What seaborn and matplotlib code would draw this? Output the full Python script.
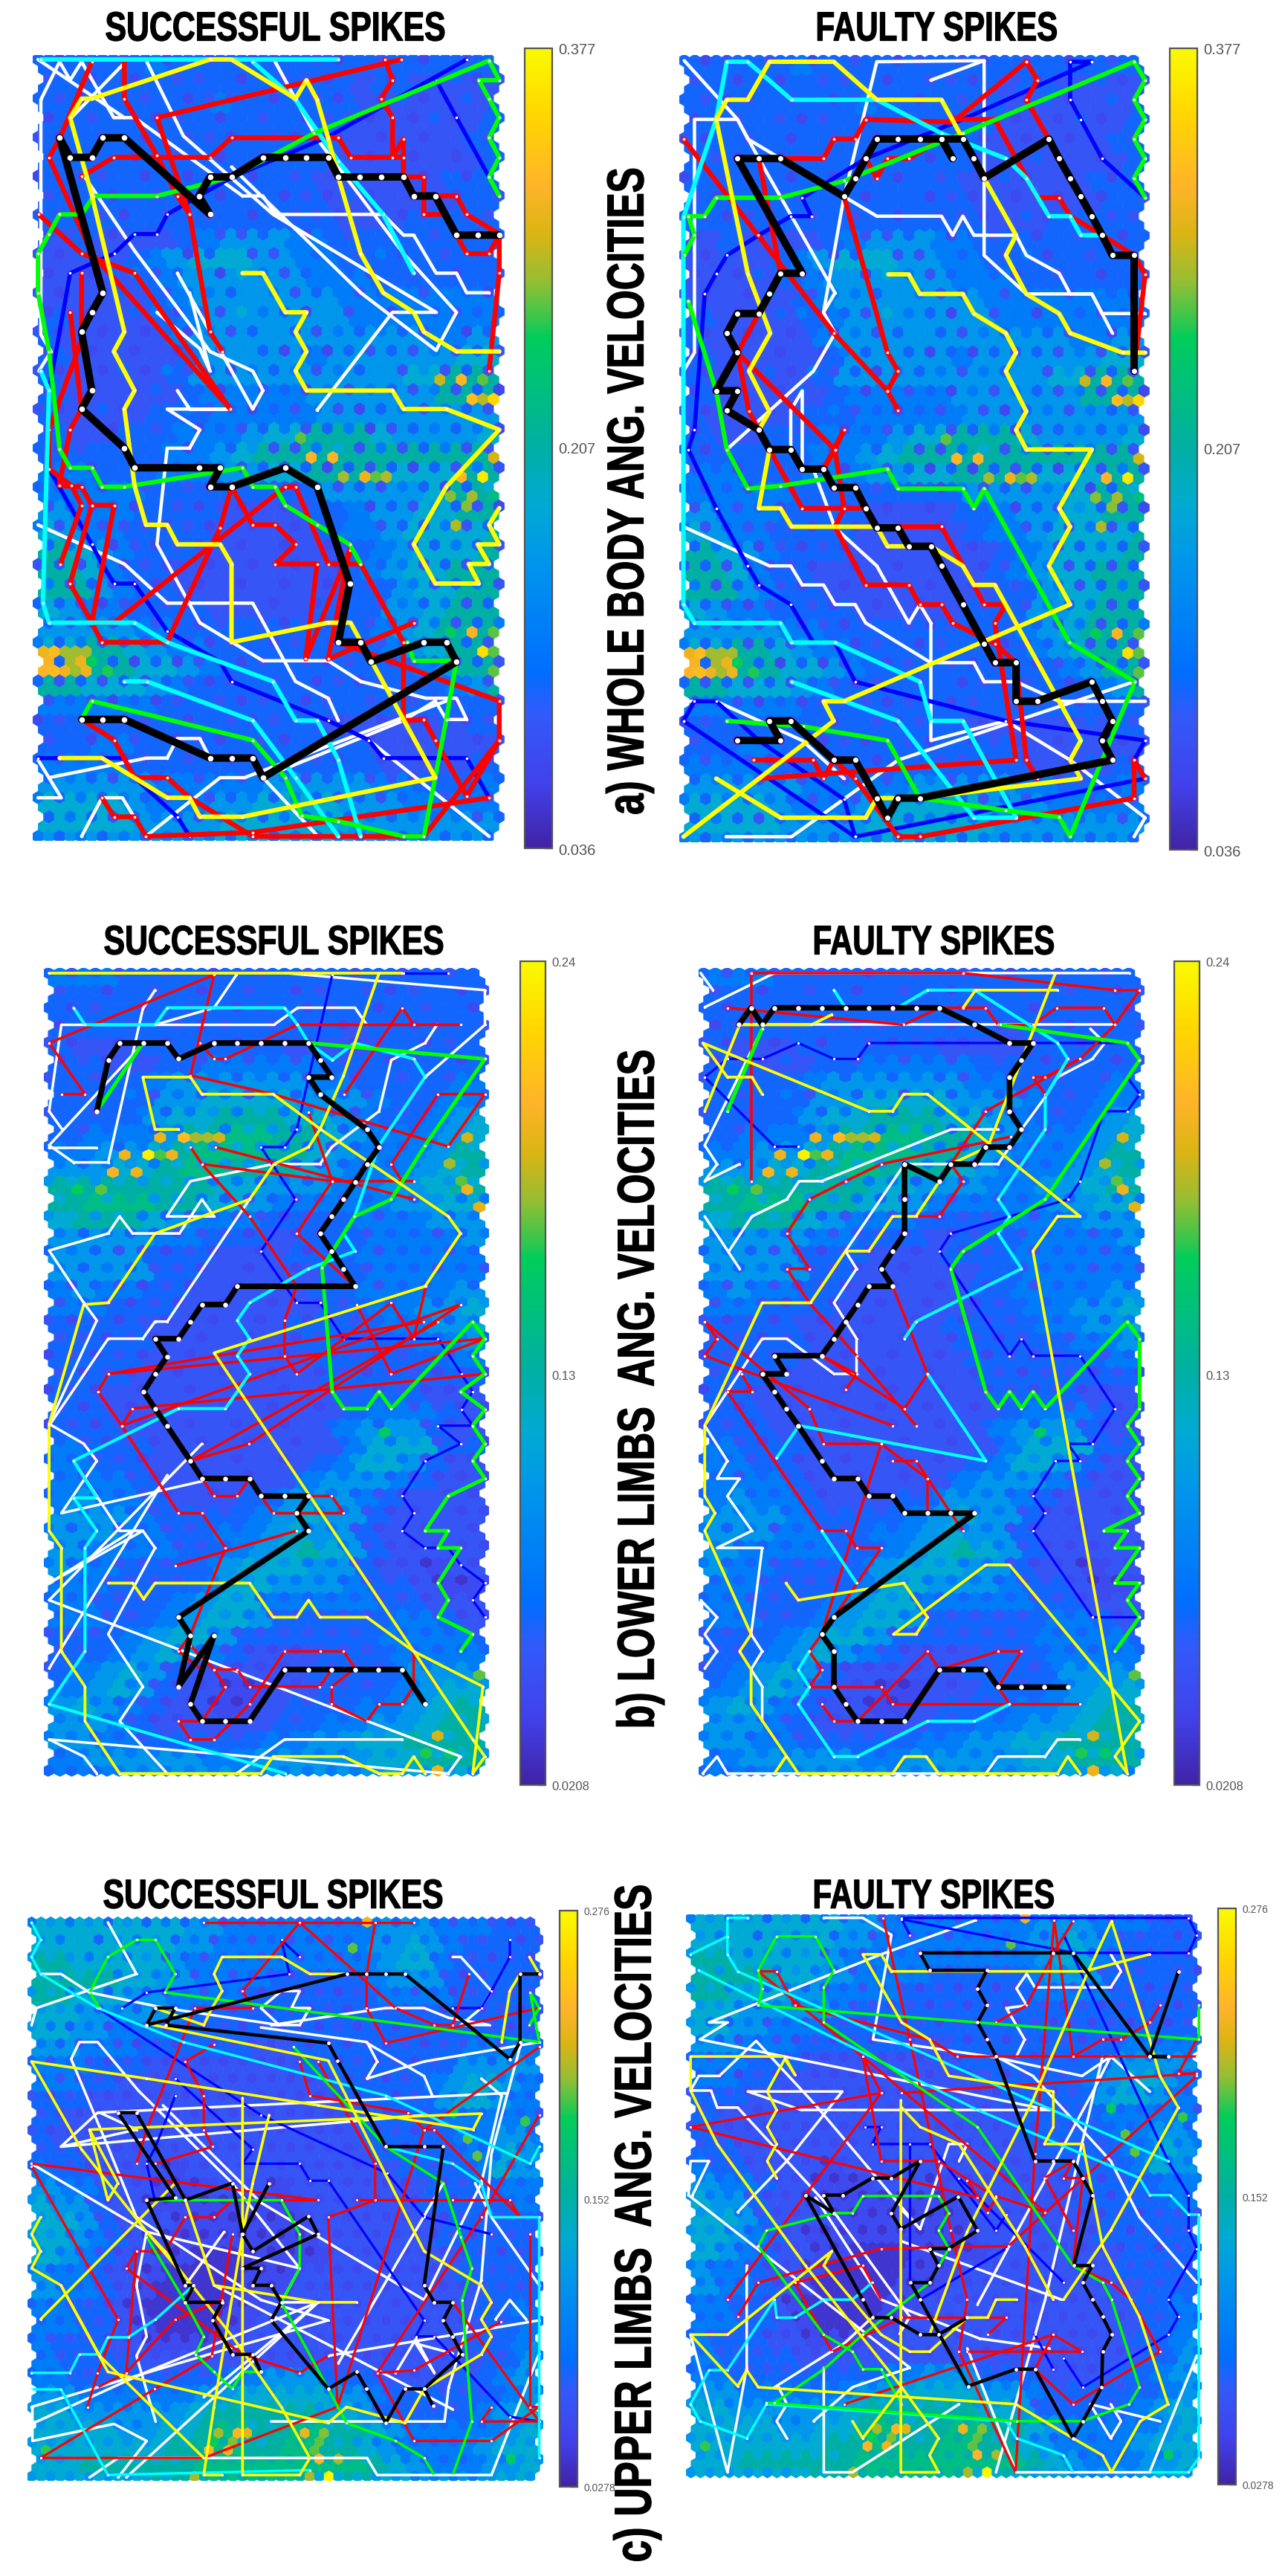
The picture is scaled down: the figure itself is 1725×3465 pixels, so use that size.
import matplotlib
matplotlib.use("Agg")
import matplotlib.pyplot as plt
from matplotlib.colors import LinearSegmentedColormap, Normalize
from matplotlib.cm import ScalarMappable
from matplotlib.patheffects import AbstractPathEffect
from matplotlib.path import Path
from matplotlib.transforms import Affine2D
import numpy as np
import seaborn as sns

# colour bar ends and mid ticks
WHOLE_TICKS = [0.036, 0.207, 0.377]
WHOLE_LABELS = ["0.036", "0.207", "0.377"]
LOWER_TICKS = [0.0208, 0.13, 0.24]
LOWER_LABELS = ["0.0208", "0.13", "0.24"]
UPPER_TICKS = [0.0278, 0.152, 0.276]
UPPER_LABELS = ["0.0278", "0.152", "0.276"]

# share of the colour range for each digit of the maps below
LEVELS = [0.05, 0.11, 0.15, 0.2, 0.27, 0.36, 0.43, 0.5, 0.56, 0.63]

WHOLE_FIELD = [
    "3333343333333333333333", "3333333333333323322223", "3333333343333332222223",
    "3333333333333322222233", "3333333333333322222233", "3333333333333222222233",
    "3333333333333222222333", "3333333333333222222333", "3333333333333322233333",
    "2322223455544333333333", "2222345666554433333333", "2222345555554443333333",
    "2222234555555544444444", "3222234555555544444444", "3222224555555555554455",
    "3222223555554555555666", "3222223555555555566777", "3222223444445555557777",
    "3222233344444555555555", "3223334445667776555566", "3333334456777777777777",
    "4433344455667777666777", "4444433333333555556778", "5444333322223345566777",
    "6544333322222344566667", "7654333222222234566677", "7764332222222234566777",
    "7754332222222233566777", "6544333322222333556777", "5555443333333334567776",
    "6677654433333333456778", "7777665433333333345778", "7766654333333333333457",
    "4444433333333333333333", "3333333333333222222233", "3344333333333332222223",
    "4444333333333333222233", "5555544444555554433344", "6666544455666655544444",
    "6666555566666655555555", "5555555566666655555555",
]
WHOLE_SPECKLE = [
    "3123231323123213231323", "2313132231322132122312", "3212323122313212131232",
    "1323212313231221213123", "2132313221321312121232", "3213122313213121312123",
    "1322313132132213121313", "2131223213312131212132", "3212132323132212312322",
    "1231323422351323132313", "2132235136224332413232", "1213423516423431323132",
    "2121322443542342342431", "1212341326431524143233", "2121213142353243432413",
    "1212121435313132324232", "2121314231434243525232", "1212132314231424324231",
    "2123123423132421342432", "1221324132342341234341", "3123234143522462423422",
    "2313322142313132313242", "3231423212321423243136", "2323132121212341325321",
    "4232221212121234232423", "3431212121212123423432", "2323121212121212342323",
    "4232212121212122342342", "3321232121212123243423", "3232322123212132324234",
    "4342323212312321234232", "2323131231232123123232", "3232323212323121231342",
    "2321312321231232121232", "1232123132123212121312", "2313231213213121213212",
    "3232123231232213121321", "3432324232342342212343", "4343432323434323234232",
    "3432343234343434343423", "4343434343434343434343",
]
# (fine row, fine column, share of colour range) of the hot cells
WHOLE_HOT = [
    (33, 37, .75), (33, 39, .83), (33, 41, .68), (35, 40, .85), (35, 41, .74), (35, 42, .92),
    (39, 24, .68), (41, 25, .83), (41, 27, .82), (41, 42, .76), (43, 28, .72), (43, 30, .8),
    (43, 31, .68), (43, 32, .73), (43, 39, .83), (43, 41, .96), (45, 38, .7), (45, 40, .72),
    (46, 40, .7), (48, 39, .73), (59, 40, .82), (59, 38, .63), (59, 42, .68), (61, 41, .94),
    (61, 42, .68), (63, 42, .68), (61, 0, .8), (61, 1, .85), (61, 2, .72), (61, 3, .72),
    (61, 4, .72), (62, 1, .82), (62, 2, .2), (62, 3, .72), (62, 4, .8), (62, 5, .63),
    (63, 0, .83), (63, 1, .85), (63, 2, .8), (63, 3, .72), (63, 4, .8), (63, 6, .65),
]

LOWER_FIELD = [
    "4443333333333333333", "3333333333333333334", "3333333333333333333", "3333333333332333333",
    "3222333333222233333", "3322334444433333333", "3333455555544333344", "3333556666555433444",
    "3333566777665433456", "3444577887765444567", "4455678887765444577", "5566788777654445677",
    "7777777665554455677", "7888776654444455667", "6777654443333444555", "5555443332333444455",
    "5555333222333444444", "5555332222233444444", "4544332222233444455", "4433322222233445566",
    "3333222222333344556", "3333222222333334455", "3333222222233333344", "3332222222233333333",
    "3322222222223333222", "3322222222223444322", "3332222222224555322", "4333222222224666332",
    "4433222222234665322", "4443222222455543222", "4544322233555432222", "5554333345655322222",
    "5554433445655322222", "5444433456765322222", "5443333566655322122", "4433334665554332112",
    "4433345664444433222", "4433456653333344322", "3334566533333344443", "3345654322233344444",
    "3456532222233335555", "4565322112233345666", "5654322112333445677", "5543222223344556777",
    "5544333334455667777", "4555554455555667776", "4445555555555566665",
]
LOWER_SPECKLE = [
    "3232323132323132323", "2313231323123212312", "3123132312312313231", "1232321232121321232",
    "2121313212112123123", "1213232323232312312", "2323343434323232323", "3234243424343232343",
    "2323434546443232345", "3234346465343323456", "3343456565432323456", "4345466554323234565",
    "5656565443434345656", "6767554323232343544", "5656432322122323434", "4343322212123233234",
    "3432212121212323323", "4343221212123233232", "3232121212121323343", "2321212121212334345",
    "2121212121212233434", "2212121212121232343", "1212121212121212323", "2121212121212122121",
    "1212121212121212112", "2121212121212332211", "1212121212123435211", "3212121212123545221",
    "3322121212123554211", "3232121212344432111", "3433212122444321211", "4443222234544211211",
    "4342322334544212121", "4333322345654211111", "4332222455544211011", "3322223554443221001",
    "3322234553333322111", "3322345542222233211", "2223455422222233332", "2234543211122233333",
    "2345421111122224444", "3454211001122234555", "4543211001222334566", "4432111112233445666",
    "4433222223344556666", "3444443344444556665", "3334444444444455554",
]
LOWER_HOT = [
    (19, 9, .8), (19, 11, .85), (19, 12, .72), (19, 13, .72), (19, 14, .76), (21, 6, .8),
    (21, 8, .98), (21, 9, .67), (21, 10, .8), (23, 5, .82), (23, 7, .8), (25, 2, .64),
    (25, 4, .68), (19, 35, .76), (22, 34, .72), (24, 35, .68), (25, 35, .8), (27, 36, .78),
    (53, 28, .62), (81, 36, .68), (88, 33, .76), (90, 32, .65), (90, 34, .62), (92, 33, .8),
]

UPPER_FIELD = [
    "666666665544444444555444333", "666666655444444445565433333", "776666654444444444566433333",
    "777766554444333334555333332", "776665544443333333444433333", "665555543333333333333333333",
    "665544433333333333333333333", "554443333332233333333344444", "444333222222223333333355555",
    "443322222222222333334566544", "333222222222222233333566544", "322222222222222223333444444",
    "322222222222222223333344554", "332222222222222223333344655", "433222212222222222233334655",
    "544322111222122222223333445", "655322111111112222223333344", "665322211111112222222333333",
    "665432111111111222222333333", "654322110001111222222233333", "544322100001112222222233333",
    "544321000011122222222223333", "443321000011222222222223344", "443321000112222222222223344",
    "433322111122222222222223345", "433332222222222222222223355", "443333333344555333222233455",
    "554444445566666554333333455", "665555556777777665333334566", "666655667887788776544444566",
    "666666677887788776544445666", "667777778888888887654445566", "666666778888888777665555666",
]
UPPER_SPECKLE = [
    "454535343423232323434323212", "546354534232323234354322312", "565454523233232323455322121",
    "656545432323212123444212321", "564534323232121212332312122", "554343432212121212212121212",
    "543423212121212121212121212", "432321212121121212121223233", "323212111111111212121234344",
    "321211111111111212123455433", "212111111111111111212345433", "211111111111111112122333332",
    "211111111111111112121233443", "221111111111111112112233544", "322111101111111111122223544",
    "433211000111011111112122334", "544211000000001111111212233", "554211100000001111111121222",
    "554321000000000111111121222", "543211000000000111111112122", "433211000000001111111122222",
    "433210000000011111111112222", "332210000000111111111112233", "332210000001111111111112233",
    "322211000011111111111112234", "322221111111111111111112244", "332222222233444222111122344",
    "443333334455555443222222344", "554444445666666554222223455", "555544556776677665433333455",
    "555555566776677665433334555", "556666667777777776543334455", "555555667777777666554444555",
]
UPPER_HOT = [
    (64, 17, .72), (64, 29, .72), (64, 31, 1.0), (62, 30, .83), (62, 32, .72), (61, 18, .83),
    (61, 20, .8), (61, 29, .68), (60, 21, .7), (60, 19, .64), (60, 30, .68), (59, 19, .72),
    (59, 21, .83), (59, 22, .78), (59, 28, .8), (59, 30, .7), (0, 35, .8), (3, 33, .68),
    (22, 44, .62), (25, 45, .68), (27, 46, .68), (23, 51, .66), (62, 50, .62), (61, 1, .66),
]

# --- trajectories of the left and right map of row a, x y x y ... in map units ---
AL_WHITE = [
    [100,180, 146,112, 172,145, 200,112, 279,212, 330,212, 595,352, 645,352, 675,385, 940,385, 990,422, 1015,422, 1070,490, 1120,490, 1145,525, 1200,525],
    [93,108, 305,212], [300,118, 175,212],
    [360,112, 450,245, 670,385, 1070,560, 963,560, 778,735],
    [675,112, 778,250, 990,455, 1120,560, 1070,628, 885,525, 568,300],
    [205,315, 330,450, 515,630, 620,665, 645,700, 620,733, 435,490],
    [385,560, 490,625, 515,665, 465,525],
    [100,180, 100,600, 125,630, 95,665],
    [435,700, 465,733, 565,733, 410,733, 490,770, 465,803, 410,803, 385,975, 490,1115, 645,1183, 805,1183, 885,1220, 1045,1250, 1120,1250, 1145,1288, 1095,1288, 1068,1255, 990,1290, 645,1392],
    [93,940, 305,1010, 410,1080, 620,1080, 725,1220, 805,1250, 830,1290],
    [120,1392, 360,1357, 410,1357, 435,1322, 490,1322, 515,1357],
    [93,1360, 150,1428, 93,1428], [200,1497, 250,1428, 300,1428, 358,1497],
    [358,1497, 540,1392, 600,1392, 1095,1255], [645,1392, 780,1497], [905,1325, 1200,1497],
]
AL_BLUE = [
    [120,700, 172,490, 280,455, 330,420, 385,420, 410,385, 488,352, 570,318, 800,248, 1145,108],
    [1070,145, 1120,212, 1200,318],
    [120,840, 225,975, 250,1010, 280,1045, 330,1045, 410,1130, 540,1185, 568,1220, 805,1290, 905,1325, 940,1357, 1145,1357, 1200,1428],
    [93,1357, 305,1357, 330,1392, 435,1462, 465,1497],
]
AL_RED = [
    [985,108, 385,212, 465,385, 515,595, 545,630],
    [945,108, 963,145, 935,178, 963,212, 963,283, 990,250, 990,318, 1040,318, 1040,385, 1095,385, 1068,352, 1120,352, 1145,385, 1225,420, 1225,490, 1200,665],
    [1120,422, 1145,455, 1200,455, 1225,422],
    [225,112, 146,250, 120,283, 225,455, 565,733],
    [305,108, 305,178, 385,280, 435,352, 465,385],
    [200,317, 279,283, 515,283, 568,248, 830,248, 860,283, 990,283],
    [95,385, 200,455, 330,490, 565,733],
    [200,490, 200,610, 120,770, 120,840, 175,870, 200,905, 148,1010],
    [172,560, 200,733, 172,770, 145,870, 200,872, 225,905, 172,1045, 225,1115, 250,1150, 410,1150, 540,945, 568,872, 620,940, 675,940, 725,975, 675,1010, 778,1010, 750,1180, 858,985, 805,1180, 1015,1115],
    [225,905, 280,905, 225,1115, 280,1115, 700,872, 725,872, 805,1010, 885,1010, 990,1150, 990,1290, 1040,1288, 1068,1325, 1145,1425, 1225,1325, 1225,1255, 830,1150],
    [200,1288, 280,1325, 330,1392, 410,1392, 465,1428, 620,1497, 1040,1497, 1225,1325],
    [250,1428, 280,1462, 330,1462, 358,1497, 620,1490, 1200,1428],
]
AL_GREEN = [
    [1200,110, 770,240, 570,318, 385,352, 230,352, 200,385, 146,385, 120,420, 93,455, 93,525, 120,630, 146,805, 172,838, 225,838, 250,872, 305,872, 595,838, 620,872, 675,872, 700,905, 778,940, 858,975, 885,1010],
    [1200,110, 1225,145, 1175,145, 1200,178, 1225,212, 1200,248, 1225,283, 1200,318, 1225,352],
    [1000,1150, 1015,1183, 1120,1183, 1095,1288, 1040,1497, 990,1497, 830,1470, 740,1460, 700,1392, 620,1325, 225,1255, 200,1288],
]
AL_CYAN = [
    [100,108, 830,108], [620,112, 725,180, 830,290, 940,385, 1015,490],
    [100,665, 120,700, 105,1080, 120,1115, 330,1115, 410,1150, 670,1220, 725,1290, 778,1290, 830,1360, 885,1497],
    [305,1220, 360,1220, 620,1290, 725,1392, 830,1497],
]
AL_YELLOW = [
    [515,108, 568,108, 725,178, 752,145, 778,180, 805,248, 830,318, 885,455, 940,525, 1015,560, 1040,595, 1120,630, 1225,630],
    [515,108, 225,178, 200,178, 172,212, 225,350, 305,595, 279,630, 330,700, 305,733, 330,870, 358,940, 410,940, 435,975, 540,975, 568,1010, 568,1150, 805,1115, 860,1115, 1068,1392, 595,1462, 490,1462, 465,1428, 410,1428, 250,1357, 146,1357],
    [595,490, 645,490, 700,560, 752,560, 725,595, 752,630, 725,665, 752,700, 963,700, 990,733, 1095,733, 1225,770, 1095,872, 1015,975, 1068,1045, 1175,1045, 1150,1010, 1200,1010, 1172,975, 1225,975, 1200,940, 1225,910],
]
AL_BLACK = [
    [1225,422, 1172,422, 1120,422, 1068,352, 1015,352, 990,318, 935,318, 883,318, 830,318, 805,283, 752,283, 700,283, 645,283, 568,318, 515,318, 488,352, 515,385, 305,248, 252,248, 225,283, 172,283, 146,248, 252,525, 225,560, 200,595, 225,700, 200,733, 305,803, 330,838, 488,838, 540,838, 515,872, 568,872, 700,838, 778,872, 858,1045, 830,1150, 885,1150, 910,1185, 1040,1150, 1095,1150, 1120,1185, 645,1392, 620,1357, 568,1357, 515,1357, 305,1288, 252,1288, 200,1288],
]

AR_WHITE = [
    [110,110, 240,215, 292,285, 478,525, 450,560],
    [108,665, 135,632, 135,215, 240,215, 265,250, 345,285],
    [500,353, 580,388, 738,388, 765,422, 790,388, 817,422, 920,422, 945,458, 1025,490, 1052,527, 1105,527, 1155,597],
    [842,110, 842,458, 945,527, 1105,527, 1130,562, 1235,562],
    [712,145, 842,110, 580,112, 500,353, 450,560, 478,597, 425,665, 214,805],
    [370,805, 370,735, 398,700, 398,840, 425,840, 478,945, 580,1013, 658,1115, 685,1082, 712,1115, 712,1325, 895,1290, 1052,1360, 1235,1463, 1208,1497],
    [108,943, 318,1013, 370,1013, 398,1047, 450,1047, 478,1082, 527,1082, 553,1115, 712,1186, 817,1186, 842,1220, 920,1220, 1025,1255, 1235,1255],
    [212,1497, 372,1497, 632,1360, 1208,1220], [108,1255, 188,1255, 398,1325, 500,1393],
]
AR_BLUE = [
    [1105,112, 1052,112, 1052,180, 1078,215, 1130,285, 1235,355],
    [1105,112, 790,215, 553,285, 398,355, 420,388, 370,388, 292,422, 214,458, 188,490, 160,527, 135,770, 120,805, 188,910, 265,1013, 292,1047, 370,1082, 425,1150, 478,1150, 527,1220, 895,1290, 1235,1325],
    [108,1290, 135,1255, 188,1255, 292,1325, 500,1430, 527,1497],
    [108,1290, 527,1497, 1235,1393, 1208,1360, 1235,1325],
]
AR_RED = [
    [945,112, 972,145, 945,180, 1000,250], [945,112, 765,220, 553,215, 527,250, 475,250, 450,285, 345,285],
    [765,215, 868,215, 972,355, 1025,355, 1052,388, 1130,422, 1208,458, 1235,492, 1208,665],
    [738,250, 658,285, 606,285, 580,320, 553,285],
    [108,250, 290,422, 475,597, 606,700, 632,735],
    [500,353, 606,632, 632,665, 606,700],
    [292,285, 345,490, 292,562, 240,632, 268,737, 318,805, 398,910, 553,910],
    [240,632, 478,805, 500,770, 450,840, 478,805, 500,910, 478,943, 553,1047, 658,1047, 685,1082, 738,1082, 765,1115, 868,1152, 920,1186, 945,1360, 972,1393],
    [632,943, 738,943, 817,1047, 842,1082, 895,1082, 868,1115, 920,1360, 295,1393],
    [280,1360, 425,1360, 450,1393, 475,1360, 527,1393, 632,1497, 685,1497, 1208,1428, 1208,1360, 1235,1393],
]
AR_GREEN = [
    [1235,355, 1208,320, 1235,285, 1208,250, 1235,215, 1208,180, 1235,145, 1208,112, 790,240, 500,325, 345,355, 188,355, 160,388, 120,388, 135,422, 110,458],
    [120,540, 188,700, 214,805, 265,875, 345,870, 606,840, 632,875, 790,875, 817,910, 842,875, 1050,1150, 1210,1220, 1052,1497, 1025,1462, 895,1450, 685,1428, 606,1325, 400,1300, 214,1290],
]
AR_CYAN = [
    [108,1082, 108,390, 188,215, 214,112, 265,112, 372,180, 580,180, 738,240, 895,285, 945,320, 1000,388, 1052,388, 1078,422, 1130,422],
    [108,1082, 135,1115, 345,1115, 372,1150, 478,1150, 685,1220, 712,1290, 790,1290, 920,1463],
    [372,1220, 632,1290, 817,1463, 920,1463],
]
AR_YELLOW = [
    [790,250, 738,180, 580,180, 475,112, 318,112, 265,180, 214,180, 188,215, 265,490, 320,597, 268,665, 318,737, 292,770],
    [842,320, 920,422, 895,458, 945,527, 1025,562, 1052,597, 1180,632, 1235,632],
    [608,492, 658,492, 685,527, 790,527, 817,562, 895,597, 920,632, 895,665, 945,737, 920,770, 945,805, 1105,805, 1025,910, 1052,943, 1000,1013, 1052,1082, 500,1255, 450,1255, 475,1290, 108,1497],
    [318,805, 292,910, 345,910, 372,943, 580,943, 606,978, 712,978, 790,1013, 817,1047, 868,1047, 1078,1325, 1052,1360, 1078,1393, 685,1428, 580,1428, 553,1463, 345,1463, 188,1393],
]
AR_BLACK = [
    [1208,665, 1208,458, 1155,458, 1130,422, 1105,388, 1078,353, 1052,320, 1025,285, 1000,250, 842,320, 817,285, 790,250, 738,250, 765,285, 738,250, 685,250, 632,250, 580,250, 553,285, 527,320, 500,353, 345,285, 292,285, 240,285, 398,490, 345,490, 318,527, 292,562, 240,562, 214,597, 240,632, 188,700, 240,700, 214,735, 292,770, 318,805, 370,805, 398,840, 450,840, 475,873, 527,873, 553,910, 580,945, 632,945, 658,978, 712,978, 738,1013, 790,1082, 842,1152, 868,1186, 920,1186, 920,1255, 972,1255, 1105,1220, 1130,1255, 1155,1290, 1130,1325, 1155,1360, 685,1428, 632,1428, 606,1463, 580,1428, 527,1360, 475,1360, 370,1290, 318,1290, 345,1325, 240,1325],
]

# --- row b ---
BL_WHITE = [
    [120,425, 237,425], [120,420, 345,245], [380,147, 350,180, 265,450, 180,450, 120,420],
    [120,360, 150,390], [120,360, 150,208, 672,208, 730,178, 871,178, 900,208], [380,208, 525,178, 580,120],
    [700,117, 1190,147, 1190,208, 1043,300],
    [1072,208, 1043,240, 960,270, 930,360, 814,423, 785,453, 670,453, 467,483, 409,545, 525,545, 495,515, 440,575, 325,575, 293,545, 265,575, 120,605, 205,697, 237,728, 120,910, 205,945, 237,975, 150,1067, 525,1006],
    [120,913, 265,760, 350,760, 380,730, 410,730, 612,515],
    [495,945, 120,1220], [350,1098, 120,1190], [120,1190, 325,1098, 350,1098, 380,1128, 265,1280, 350,1372, 293,1433, 410,1525],
    [120,1220, 1130,1495, 1100,1525], [410,1000, 120,1340], [180,975, 293,1098, 350,1098],
    [120,1465, 205,1495, 237,1525], [120,1465, 612,1495, 1100,1525], [580,1525, 698,1465, 987,1465],
]
BL_BLUE = [
    [815,120, 728,392, 698,423, 640,423, 725,515, 640,606, 728,697, 785,697, 843,760, 1075,760, 1132,822, 1160,853, 1132,885, 1160,913, 1075,913, 1130,945, 1043,975, 987,1037, 1015,1067, 987,1098, 1043,1128, 1100,1128, 1130,1158, 1190,1190, 1160,1220, 1190,1250],
    [990,117, 1100,117],
]
BL_RED = [
    [120,240, 525,120, 467,297, 670,330, 1100,422, 1190,330, 1075,330, 960,453, 987,483],
    [120,240, 208,330, 150,330], [490,240, 525,268, 553,268, 728,208, 1130,208],
    [845,330, 987,178, 1015,208], [757,362, 815,483, 728,575, 870,668],
    [528,423, 1015,515], [467,423, 495,453, 815,483, 1015,483],
    [495,453, 612,545, 728,668, 698,728, 698,790, 728,822, 960,697, 1015,760, 1045,668],
    [240,853, 265,822, 1190,760, 960,822, 875,700], [265,822, 1040,730],
    [298,913, 325,883, 1190,822], [298,913, 1130,700, 610,945, 467,975, 1075,730],
    [240,853, 298,913, 438,1067, 495,1067, 553,1128, 467,1280, 438,1310, 495,1342],
    [495,1006, 525,1037, 582,1037, 612,1006], [640,1037, 670,1067, 843,1067, 814,1037, 757,1037],
    [728,1098, 430,1159],
    [467,1300, 525,1342, 553,1372, 495,1433, 438,1433, 467,1465, 525,1465, 612,1403, 698,1310, 785,1310, 843,1310, 871,1340, 814,1372, 814,1403, 900,1433, 930,1403, 987,1403, 1015,1372, 1015,1310, 1072,1372],
    [525,1342, 582,1342, 612,1372, 784,1372, 814,1342],
]
BL_GREEN = [
    [237,360, 350,240],
    [760,240, 1190,268, 1043,420, 960,515, 870,545, 790,635, 815,853, 843,883, 900,883, 930,853, 960,883, 1160,730, 1190,760, 1160,790, 1190,822, 1130,853, 1190,885, 1160,913, 1190,945, 1160,975, 1190,1006, 1100,1037, 1043,1098, 1100,1098, 1075,1128, 1130,1128, 1075,1190, 1100,1220, 1075,1250, 1160,1280, 1130,1310],
]
BL_CYAN = [
    [180,178, 208,208, 380,208, 410,178, 698,178, 730,208, 757,240, 815,270, 870,240, 1015,268, 1043,300, 930,420, 870,545, 843,575, 871,606, 757,637, 612,697, 582,728, 612,760, 582,790, 612,822, 553,883, 438,883, 180,975, 237,1040, 180,1040, 237,1098, 208,1128, 208,1310, 120,1403, 700,1525],
]
BL_YELLOW = [
    [120,117, 987,117],
    [930,117, 843,297, 785,392, 757,423, 672,453, 612,515, 380,575, 265,697, 205,700, 120,910, 120,1098, 150,1128, 150,1310, 208,1372, 208,1433, 293,1525, 640,1525, 670,1495, 843,1495, 930,1525, 987,1525, 1015,1495, 1043,1525],
    [438,392, 380,392, 350,300, 467,300, 495,330, 670,330, 787,392, 1100,545, 1130,575, 1043,668, 525,785, 1160,1465, 1190,1495, 1160,1525, 1185,1372, 1015,1310, 900,1250, 785,1250, 757,1220, 728,1250, 670,1250, 612,1190, 380,1190, 352,1218, 325,1190, 265,1190],
]
BL_BLACK = [
    [1043,1403, 987,1342, 928,1342, 871,1342, 814,1342, 757,1342, 698,1342, 612,1433, 553,1433, 495,1433, 467,1403, 525,1282, 438,1372, 467,1282, 438,1250, 757,1098, 728,1067, 757,1037, 698,1037, 640,1037, 612,1006, 553,1006, 495,1006, 467,975, 409,913, 380,883, 352,853, 380,822, 409,792, 380,760, 438,760, 467,730, 495,700, 553,700, 582,668, 871,668, 843,637, 814,606, 785,575, 814,545, 843,515, 871,485, 900,453, 930,423, 900,392, 785,330, 757,300, 814,300, 785,270, 757,240, 698,240, 640,240, 582,240, 525,240, 438,268, 409,240, 352,240, 293,240, 265,270, 237,360],
]

BR_WHITE = [
    [160,177, 330,117, 1195,117], [150,117, 180,147],
    [245,208, 1160,208], [1100,215, 1135,240, 1105,268, 1020,300, 990,335, 932,392, 875,453, 647,453],
    [160,420, 190,453, 160,483, 245,453], [300,215, 160,420], [245,637, 160,545],
    [220,605, 275,545, 360,515, 390,483, 445,483, 760,392, 875,392],
    [647,453, 503,606, 530,637, 475,697, 530,760, 530,822, 475,822, 360,760, 300,760, 160,913, 215,975, 190,1006, 245,1006, 215,1037, 275,1098, 190,1128, 300,1128, 273,1280, 300,1310, 273,1342, 300,1372, 300,1433],
    [150,1220, 190,1250, 160,1280, 190,1310, 160,1340],
    [155,1525, 190,1495, 215,1525, 845,1525, 875,1495, 990,1495, 1020,1465, 1075,1465],
]
BR_BLUE = [
    [160,300, 215,268, 300,268, 388,240, 475,268, 532,268, 560,240, 1190,240],
    [160,300, 330,422, 388,422],
    [1190,300, 1220,330, 1190,360, 1133,360, 1075,483, 1045,515, 760,575, 732,606, 903,790, 932,760, 960,790, 1075,790, 1160,883, 1105,945, 1045,945, 1075,975, 1015,975, 960,1037, 990,1067, 960,1098, 1105,1250, 1220,1250],
]
BR_RED = [
    [273,117, 273,483],
    [273,117, 790,117, 1160,147, 1220,147, 1160,208, 1075,268, 990,300, 960,300, 990,330],
    [215,178, 645,208, 732,178, 845,178, 875,208, 960,208, 1018,178, 1133,178, 1160,208],
    [1075,268, 845,360, 760,453, 790,483, 732,545, 675,545],
    [905,405, 590,453, 503,483, 415,515, 360,575, 415,637, 360,637, 415,697, 530,790, 675,913],
    [618,668, 703,822, 647,883, 445,790, 330,790],
    [160,730, 190,760, 160,790, 618,913], [160,730, 415,883, 450,945, 590,945, 703,1006, 703,1067],
    [250,822, 275,853, 215,853, 445,1098, 503,1098, 530,1128, 590,1128, 475,1250],
    [590,945, 445,1280, 415,1310, 445,1342, 415,1373, 590,1373, 618,1403, 1075,1403],
    [445,790, 530,822, 503,850], [618,975, 675,975, 760,1067, 790,1098],
    [445,1403, 475,1433, 532,1433, 703,1310, 732,1342, 875,1310, 932,1310, 875,1373, 903,1403],
]
BR_GREEN = [
    [215,360, 300,215], [1220,270, 1190,240, 880,208],
    [1220,270, 990,515, 790,606, 760,637, 845,853, 875,883, 903,853, 932,883, 960,853, 990,883, 1190,730, 1220,760, 1220,883, 1190,913, 1220,945, 1190,975, 1220,1006, 1190,1037, 1220,1067, 1133,1098, 1190,1098, 1160,1128, 1220,1128, 1160,1190, 1220,1190, 1190,1220, 1220,1250, 1160,1310],
]
BR_CYAN = [
    [475,147, 503,178],
    [630,178, 703,147, 818,147, 1020,240, 1045,268, 990,335, 990,392, 875,515, 903,545, 875,575, 932,637, 675,730, 647,760],
    [703,822, 845,975, 390,913, 335,970], [445,1098, 530,1190],
    [415,1310, 388,1342, 415,1373, 388,1403, 475,1495, 532,1495, 703,1433, 818,1433, 903,1403],
]
BR_YELLOW = [
    [300,330, 275,300, 215,300, 155,240, 560,360, 618,360, 645,330, 703,330, 1075,545, 1020,545, 960,606, 1190,1525, 1160,1495, 1220,1433, 903,1158, 845,1158, 620,1280, 675,1280, 703,1250, 645,1190, 388,1220, 358,1190],
    [160,360, 245,208, 420,208, 470,190], [790,178, 820,147, 1020,147],
    [1015,117, 850,423, 760,453, 675,545, 618,545, 560,606, 503,606, 418,697, 300,697, 160,913, 160,1037, 185,1067, 160,1098, 273,1280, 245,1310, 273,1342, 273,1403, 388,1525, 618,1525, 647,1495, 700,1495, 730,1525, 1020,1525, 1045,1495, 1075,1525],
    [330,1525, 358,1495],
]
BR_BLACK = [
    [1045,1373, 988,1373, 932,1373, 875,1373, 845,1342, 790,1342, 732,1342, 647,1433, 590,1433, 532,1433, 503,1403, 475,1373, 475,1310, 445,1280, 475,1250, 818,1067, 760,1067, 703,1067, 647,1067, 618,1037, 560,1037, 532,1006, 475,1006, 445,975, 388,913, 358,883, 330,853, 300,822, 358,822, 330,790, 445,790, 475,760, 503,730, 532,700, 560,668, 618,668, 590,637, 618,606, 647,575, 647,515, 647,453, 732,483, 760,453, 818,453, 845,423, 903,423, 932,392, 903,360, 903,300, 932,270, 960,240, 903,240, 818,208, 732,178, 675,178, 617,178, 560,178, 503,178, 445,178, 388,178, 330,178, 300,208, 273,178, 243,208],
]

# --- row c ---
CL_WHITE = [
    [265,224, 335,330, 90,400, 78,435],
    [100,330, 150,330, 220,368, 405,400, 685,435, 640,400, 690,365, 735,365, 715,400, 760,400, 735,435, 665,435, 946,400, 1040,400, 1100,420, 1200,435, 1130,435, 1180,400, 1205,365, 1130,295, 1110,295],
    [175,505, 195,470, 240,470, 340,570, 570,760, 735,935, 690,1005, 780,1005, 500,1200],
    [175,505, 265,685, 335,830, 640,1000, 805,1042, 500,1115, 78,1220],
    [245,615, 335,650, 150,685, 240,615, 1240,575], [78,720, 360,860, 735,935],
    [360,860, 335,970, 360,1075, 335,1115, 382,1250], [80,1220, 80,1290, 280,1255, 360,1290, 290,1365],
    [78,1255, 360,1148, 780,1005], [310,1365, 780,1005], [220,1365, 290,1325, 900,1325, 925,1360, 1205,1360, 1322,1110],
    [550,860, 455,970], [525,970, 1110,1225], [805,1115, 1322,1042], [970,1150, 1020,1080, 1065,1150, 1020,1090, 1110,1110],
    [665,1250, 1090,1250, 1100,1180, 1180,960, 1205,700, 1275,480], [900,545, 1040,510, 1322,470],
    [900,545, 925,510, 900,470, 640,440], [1060,580, 1040,540, 900,472], [1165,760, 1205,830, 1322,970],
    [830,1130, 1087,760], [1180,545, 1230,580, 1180,760, 1040,1000], [1290,1040, 1250,1000, 1215,1040],
    [150,685, 1040,620], [400,600, 640,800, 1040,1000],
]
CL_BLUE = [
    [1250,260, 1250,295, 1205,365, 1180,400, 1110,400],
    [300,400, 360,368, 710,330, 690,260, 735,295],
    [240,400, 640,620, 950,740, 1040,830, 1205,865],
    [430,545, 620,690, 595,720, 735,720, 760,755, 805,755, 1040,1042, 1020,1075, 1065,1075, 1250,1240, 1322,1250],
    [430,580, 382,685, 360,720, 380,795],
]
CL_RED = [
    [500,224, 1015,224], [735,224, 595,365, 620,400, 478,400, 360,650, 335,720],
    [920,224, 899,330, 899,400, 946,472, 1322,400], [735,224, 970,400, 1065,435, 1110,435, 1150,330],
    [525,475, 455,510, 500,580, 500,650, 522,685, 382,720],
    [735,510, 760,580, 1000,615, 1040,650, 1065,650, 1275,830, 1250,795, 1110,795, 875,795],
    [780,510, 920,720, 920,795, 805,830, 828,1220],
    [78,720, 780,795, 570,795, 525,830, 455,830, 405,900, 335,900, 310,935, 595,1112, 735,1150, 805,1115],
    [78,725, 290,1040, 240,1150, 215,1220], [100,1325, 380,1183, 520,1115, 570,865],
    [1322,480, 1040,650, 828,1220, 500,1325, 100,1325],
    [1322,620, 1180,830, 925,1150, 1015,1290, 1205,1290, 1322,1220, 1300,1220, 1300,865],
    [1228,1045, 1015,1145, 925,1150], [1110,1005, 1322,1250, 1180,1250, 1205,1220],
    [240,1180, 310,1150, 335,900], [310,1150, 430,1040, 545,1000],
]
CL_GREEN = [
    [245,400, 220,368, 265,295, 335,260, 382,260, 430,330, 405,368, 1322,470, 1300,368, 1322,400, 1298,435],
    [720,480, 946,685, 1087,760, 1130,870, 1157,935, 1133,1000, 1157,1250, 1110,1360],
    [360,795, 690,795, 735,865, 735,935, 690,1005, 805,1183, 850,1253, 970,1290, 1040,1325, 1065,1360],
    [360,870, 455,1005, 500,1075, 480,1112, 525,1148, 570,1183, 595,1148, 640,1148],
]
CL_CYAN = [
    [78,224, 100,260, 78,295, 100,330, 240,400, 450,470, 946,580, 1300,720, 1322,685],
    [78,1150, 172,1150, 195,1112, 245,1112, 265,1077, 315,1077, 382,1040, 475,970],
    [78,1184, 150,1184, 265,1360, 760,1350],
    [1322,1325, 1322,830, 1205,830, 1180,760, 1110,720, 946,685],
]
CL_YELLOW = [
    [1322,330, 1298,295], [1230,470, 1250,365, 1275,330],
    [852,330, 760,330, 690,295, 545,295, 525,330, 545,365, 520,400, 500,435, 380,400],
    [78,510, 360,545, 780,600, 1160,650, 1180,617, 220,650, 290,760, 265,795, 220,650],
    [78,510, 200,690, 360,860, 435,935], [100,1040, 430,760, 455,795, 525,970, 780,1005, 875,1005],
    [360,432, 805,508, 1040,900, 1180,970, 1205,1005, 1180,1040, 1205,1075, 1180,1112, 1040,1183, 993,1253, 850,1220, 805,1253, 265,1148, 150,970, 78,935, 100,900, 78,865, 100,830],
    [595,585, 595,1360, 735,1360, 760,1325, 690,1220, 570,1075, 405,900, 360,860],
    [660,620, 620,760, 595,865, 525,1220, 500,1360, 545,1360], [150,970, 245,1115, 500,1325],
]
CL_BLACK = [
    [1322,330, 1275,330, 1275,470, 1250,505, 993,330, 946,330, 899,330, 852,330, 360,435, 382,400, 430,400, 407,435, 805,472, 828,508, 946,685, 1040,685, 1087,685, 1040,970, 1065,1005, 1110,1005, 1087,1042, 1110,1075, 1133,1112, 1040,1183, 993,1183, 946,1253, 899,1183, 875,1148, 805,1183, 665,1042, 690,1005, 665,970, 620,970, 640,935, 595,935, 780,865, 757,828, 620,900, 595,865, 570,760, 455,795, 335,615, 290,615, 430,790, 360,795, 455,970, 475,970, 455,1005, 545,1005, 522,1042, 570,1112, 620,1112, 640,1148],
    [1040,1183, 1062,1218], [595,865, 660,760],
]

CR_WHITE = [
    [450,215, 545,215, 615,250, 570,465, 870,502, 1080,540, 1150,500],
    [148,465, 215,430, 170,430, 590,290, 820,220], [148,465, 1000,610],
    [125,570, 175,570, 190,605, 240,605, 475,820, 660,1035, 635,1070],
    [125,570, 145,540, 195,540, 285,468, 430,600, 685,855, 755,680, 800,680, 780,715],
    [265,572, 495,572, 360,715, 240,820], [265,572, 395,610, 1000,610],
    [120,785, 125,715, 170,715, 130,785], [120,785, 660,1140, 520,1180, 425,1250],
    [262,930, 262,1140, 215,1355, 125,1072], [450,1140, 450,1355, 520,1355, 780,1215],
    [340,1180, 360,1215, 335,1250, 360,1285], [330,1180, 500,1090, 570,1035],
    [1360,965, 1220,830, 1150,715, 960,540, 870,500], [1245,572, 1150,500, 1105,575, 825,1010],
    [920,1355, 1245,1355, 1360,1115], [870,1355, 990,1000, 1130,500], [800,1100, 920,1355],
    [920,360, 945,330, 965,358, 1150,358, 1175,325, 1150,290], [895,400, 940,465, 920,500], [920,360, 945,395, 900,400],
    [1150,1215, 1175,1250, 1150,1285, 1100,1215, 1270,1250], [640,815, 685,855],
    [430,790, 590,1000, 830,1080, 1000,1100], [640,880, 1030,1000],
]
CR_BLUE = [
    [640,215, 1340,215, 1360,250, 1340,287, 1060,287, 640,218, 660,250],
    [1035,250, 1290,715, 1340,785, 1340,858, 1360,895, 1290,1000, 1315,1035, 1290,1072, 1082,1180, 1035,1120],
    [550,645, 590,645, 568,680, 708,680, 870,858, 895,825], [660,680, 660,965],
    [685,1000, 895,895], [780,750, 1035,965], [965,1072, 1010,1143],
]
CR_RED = [
    [595,215, 660,465, 760,858, 800,1000, 780,1107, 918,1355, 965,700, 1012,220, 1058,500, 1130,465, 1175,465, 1245,430, 1270,395],
    [1058,222, 1012,285, 945,395, 870,430],
    [290,325, 335,325, 380,395, 708,465, 775,500, 1360,500],
    [290,325, 545,500, 990,820, 870,787],
    [125,645, 590,575, 545,500, 590,715, 730,715, 870,790, 850,820, 800,755],
    [125,645, 825,790], [1360,465, 1315,535, 1360,535, 640,575],
    [1360,540, 900,890, 590,895, 290,965, 240,1035], [405,785, 590,575], [405,785, 215,1000],
    [470,1107, 640,1037, 895,1037, 850,1072], [470,1107, 380,965, 545,930, 590,1000],
    [1010,1072, 500,1215], [800,1107, 1080,1107, 1010,1072, 965,1143, 1058,1215, 1270,1107, 1200,1000],
    [988,750, 1058,715, 1035,750, 1082,750, 1058,930, 1150,965, 1200,1000], [1058,858, 990,750],
]
CR_GREEN = [
    [290,395, 300,360, 290,323, 335,253, 430,253, 475,323, 450,358, 450,430, 825,645, 1058,930, 1130,965, 1152,1000, 1220,1180, 1195,1215, 1080,1250, 920,1250, 310,1212],
    [290,395, 825,430, 1365,465, 1365,395],
    [290,890, 310,858, 475,822, 520,822, 545,787, 730,787, 755,822, 730,858, 755,895, 708,965, 545,1072, 450,1143, 330,1212],
    [290,890, 450,1072, 520,1107, 545,1143, 590,1143, 640,1215],
]
CR_CYAN = [
    [265,215, 215,215, 215,290, 240,325], [125,290, 215,253],
    [145,323, 825,610, 1220,750, 1245,785, 1295,785, 1340,825, 1365,825, 1365,1325, 1340,1355, 1245,1355],
    [240,325, 1290,715],
    [125,1215, 170,1145, 215,1145, 330,1000, 335,1037, 380,1037, 450,1000, 520,1000, 568,965],
    [125,1215, 148,1250, 262,1285, 310,1215, 895,1250, 920,1285, 1035,1320, 1058,1355],
]
CR_YELLOW = [
    [1245,290, 1085,325, 615,325, 590,290, 545,290, 640,430, 708,465, 755,540, 1010,572, 1010,645, 988,680, 1082,680, 1130,890, 1220,1035, 1290,1215, 1222,1250, 1152,1355, 1130,1320, 1058,1285, 918,1215, 290,1180, 262,1145, 240,1178, 125,1072, 215,1072, 470,900, 450,930, 590,1072, 660,1107, 708,1107, 800,1037, 850,1037, 870,1000, 920,1000],
    [125,570, 125,500, 355,500, 380,538, 355,505, 312,572, 335,610, 312,645, 335,680, 312,715, 335,750],
    [125,570, 190,680, 405,930, 640,1180, 545,1285, 520,1250], [640,1180, 730,1285, 708,1320, 730,1355, 638,1355, 638,590],
    [640,605, 685,645, 780,680, 940,890, 1010,1000], [1315,605, 1150,858, 1035,1000],
    [1152,222, 1095,325, 960,590, 800,860, 708,1072], [1152,222, 1245,465, 1270,540, 1315,605],
]
CR_BLACK = [
    [1315,325, 1245,500, 1290,500, 1245,500, 1058,287, 1010,287, 685,287, 708,323, 848,323, 825,360, 848,395, 825,430, 848,465, 870,500, 965,715, 1010,715, 1058,715, 1082,750, 1105,785, 1060,930, 1105,930, 1082,965, 1105,1000, 1130,1035, 1152,1072, 1130,1107, 1128,1180, 1082,1250, 1058,1285, 965,1143, 918,1143, 802,1178, 685,1000, 662,965, 708,965, 730,930, 708,895, 755,895, 825,858, 778,788, 638,855, 615,822, 685,715, 615,750, 568,750, 497,785, 450,785, 475,822, 405,785, 545,1000, 568,1037, 615,1037, 685,1072, 730,1072, 800,1037],
]

sns.set_style("white")
plt.rcParams["font.family"] = ["Liberation Sans", "DejaVu Sans"]

W, H = 1725, 3466
fig = plt.figure(figsize=(W / 100, H / 100), dpi=100, facecolor="white")

anchors = [(0, (65, 35, 165)), (.08, (65, 65, 235)), (.167, (50, 90, 250)), (.22, (0, 110, 255)),
           (.36, (0, 150, 235)), (.43, (0, 170, 210)), (.5, (0, 175, 165)), (.64, (0, 205, 90)),
           (.655, (40, 200, 80)), (.71, (150, 190, 50)), (.77, (220, 180, 20)), (.83, (255, 180, 40)),
           (.92, (255, 215, 0)), (1, (250, 250, 0))]
som_cmap = LinearSegmentedColormap.from_list(
    "som", [(p, tuple(v / 255 for v in c)) for p, c in anchors], N=512)
LINE_COLORS = dict(white="white", blue="#0000ff", red="#ff0000", cyan="#00ffff", green="#00ff00",
                   yellow="#ffff00", black="black")


class Squeeze(AbstractPathEffect):
    # the originals use a condensed heavy face: reshape the glyphs of the real text
    def __init__(self, sx, sy, center, target):
        super().__init__()
        self.sx, self.sy, self.center, self.target = sx, sy, center, target

    def draw_path(self, renderer, gc, tpath, affine, rgbFace=None):
        move = Affine2D().translate(-self.center[0], -self.center[1]).scale(self.sx, self.sy)
        move = move.translate(*self.target)
        gc2 = renderer.new_gc()
        gc2.copy_properties(gc)
        gc2.set_linewidth(0.9)
        gc2.set_foreground("black")
        renderer.draw_path(gc2, tpath, affine + move, rgbFace)
        gc2.restore()


def pixel_axes(left, top, right, bottom):
    return fig.add_axes([left / W, 1 - bottom / H, (right - left) / W, (bottom - top) / H])


def hex_table(field, speckle, hot, x0, dx, y0, dy):
    hot_cells = {(r, j): v for r, j, v in hot}
    rows, cols = len(field), len(field[0])
    xs, ys, vals = [], [], []
    for r in range(2 * rows - 1):
        n = r // 2
        shift = n % 2
        if r % 4 == 0:
            js = range(0, 2 * cols - 1)
        elif r % 4 == 2:
            js = range(1, 2 * cols)
        else:
            js = range(0, 2 * cols - 1)
        for j in js:
            x = x0 + dx / 2 * j + (dx / 4 if r % 2 else 0)
            k = min(max((j - shift) // 2, 0), cols - 1)
            if r % 2 == 0 and (j - shift) % 2 == 0:
                v = LEVELS[int(speckle[n][k])]
            else:
                v = LEVELS[int(field[n][k])]
            xs.append(x)
            ys.append(y0 + dy / 2 * r)
            vals.append(hot_cells.get((r, j), v))
    return xs, ys, vals


def draw_map(rect, limits, grid, cells, lines, widths, dots):
    left, top, right, bottom = rect
    x_lo, x_hi, y_lo, y_hi = limits
    ax = pixel_axes(left, top, right, bottom)
    sx = (right - left) / (x_hi - x_lo)
    sy = (bottom - top) / (y_hi - y_lo)
    cell_w = grid[1] / 2 * sx
    cell_h = grid[3] / 2 * sy * 4 / 3
    hex_path = Path([(0, cell_h / 2), (cell_w / 2, cell_h / 4), (cell_w / 2, -cell_h / 4), (0, -cell_h / 2),
                     (-cell_w / 2, -cell_h / 4), (-cell_w / 2, cell_h / 4), (0, cell_h / 2)], closed=True)
    xs, ys, vals = hex_table(*cells, *grid)
    sns.scatterplot(x=xs, y=ys, hue=vals, palette=som_cmap, hue_norm=(0, 1), legend=False, marker=hex_path,
                    s=(max(cell_w, cell_h) * 0.72 * 1.04) ** 2, linewidth=0, ax=ax, zorder=1)
    for z, name in enumerate(["white", "blue", "red", "cyan", "green", "yellow", "black"]):
        dot_x, dot_y = [], []
        for path in lines[name]:
            pts = np.array(path).reshape(-1, 2)
            sns.lineplot(x=pts[:, 0], y=pts[:, 1], sort=False, estimator=None, errorbar=None,
                         color=LINE_COLORS[name], linewidth=widths[name] * 0.72, ax=ax, zorder=2 + z, legend=False)
            dot_x += list(pts[:, 0])
            dot_y += list(pts[:, 1])
        sns.scatterplot(x=dot_x, y=dot_y, color="white", s=dots[1] if name == "black" else dots[0], linewidth=0,
                        ax=ax, zorder=2.5 + z, legend=False)
    ax.set_xlim(x_lo, x_hi)
    ax.set_ylim(y_hi, y_lo)
    ax.axis("off")


def draw_bar(rect, ticks, labels, size):
    cax = pixel_axes(*rect)
    sm = ScalarMappable(norm=Normalize(ticks[0], ticks[2]), cmap=som_cmap)
    cb = fig.colorbar(sm, cax=cax)
    cb.set_ticks(ticks)
    cb.set_ticklabels(labels)
    cb.outline.set_edgecolor("#555555")
    cb.outline.set_linewidth(1.6)
    cb.ax.tick_params(length=7, width=1, direction="in", color="#333333", labelcolor="#555555", labelsize=size, pad=6)


def squeezed_text(x, y, text, size, length, cap, rotation=0, anchor_y=None):
    # x, y: centre of the drawn text in picture pixels, length and cap height in pixels as well
    anchor_y = y if anchor_y is None else anchor_y
    t = fig.text(x / W, 1 - anchor_y / H, text, ha="center", va="center", rotation=rotation,
                 fontsize=size, fontweight="bold", color="black")
    box = t.get_window_extent(fig.canvas.get_renderer())
    across = cap / (0.69 * size / 0.72)
    if rotation:
        sx, sy = across, length / box.height
    else:
        sx, sy = length / box.width, across
    t.set_path_effects([Squeeze(sx, sy, (x, H - anchor_y), (x, H - y))])


def series(*groups):
    return dict(zip(["white", "blue", "red", "green", "cyan", "yellow", "black"], groups))


whole_cells = (WHOLE_FIELD, WHOLE_SPECKLE, WHOLE_HOT)
lower_cells = (LOWER_FIELD, LOWER_SPECKLE, LOWER_HOT)
upper_cells = (UPPER_FIELD, UPPER_SPECKLE, UPPER_HOT)

w_a = dict(white=4.5, blue=5.5, red=6.5, green=6, cyan=6, yellow=6, black=10)
w_b = dict(white=3.5, blue=3.2, red=3.5, green=5, cyan=4.2, yellow=3.8, black=7.5)
w_c = dict(white=3.5, blue=3.2, red=3.2, green=3.5, cyan=3.5, yellow=3.6, black=4.5)

draw_map((44, 75, 680, 1132), (80, 1240, 100, 1505), (93.4, 52.6, 108, 34.73), whole_cells,
         series(AL_WHITE, AL_BLUE, AL_RED, AL_GREEN, AL_CYAN, AL_YELLOW, AL_BLACK), w_a, (7, 30))
draw_map((913.5, 75, 1548, 1134), (97, 1248, 100, 1507), (110, 52.2, 110, 34.73), whole_cells,
         series(AR_WHITE, AR_BLUE, AR_RED, AR_GREEN, AR_CYAN, AR_YELLOW, AR_BLACK), w_a, (7, 26))
draw_map((59, 1303, 658, 2392), (107, 1200, 108, 1532), (117.5, 58, 117, 30.5), lower_cells,
         series(BL_WHITE, BL_BLUE, BL_RED, BL_GREEN, BL_CYAN, BL_YELLOW, BL_BLACK), w_b, (6, 22))
draw_map((940, 1303, 1540, 2392), (145, 1232, 108, 1532), (157, 57.6, 117, 30.5), lower_cells,
         series(BR_WHITE, BR_BLUE, BR_RED, BR_GREEN, BR_CYAN, BR_YELLOW, BR_BLACK), w_b, (6, 22))
draw_map((37, 2579, 731, 3338), (68, 1332, 212, 1372), (78, 47, 224, 35.6), upper_cells,
         series(CL_WHITE, CL_BLUE, CL_RED, CL_GREEN, CL_CYAN, CL_YELLOW, CL_BLACK), w_c, (5, 12))
draw_map((922, 2575.5, 1617, 3335), (112, 1372, 207, 1368), (126, 46.6, 216, 35.6), upper_cells,
         series(CR_WHITE, CR_BLUE, CR_RED, CR_GREEN, CR_CYAN, CR_YELLOW, CR_BLACK), w_c, (5, 12))

draw_bar((706, 66, 743, 1142), WHOLE_TICKS, WHOLE_LABELS, 14.5)
draw_bar((1574, 66, 1611, 1144), WHOLE_TICKS, WHOLE_LABELS, 14.5)
draw_bar((700, 1294, 734, 2402), LOWER_TICKS, LOWER_LABELS, 12)
draw_bar((1580, 1294, 1614, 2402), LOWER_TICKS, LOWER_LABELS, 12)
draw_bar((753, 2571, 777, 3346), UPPER_TICKS, UPPER_LABELS, 10)
draw_bar((1639, 2568, 1663, 3343), UPPER_TICKS, UPPER_LABELS, 10)

squeezed_text(370, 41, "SUCCESSFUL SPIKES", 30, 457, 38)
squeezed_text(1260, 41, "FAULTY SPIKES", 30, 325, 38)
squeezed_text(368, 1270, "SUCCESSFUL SPIKES", 30, 457, 38)
squeezed_text(1256, 1270, "FAULTY SPIKES", 30, 325, 38)
squeezed_text(367, 2553, "SUCCESSFUL SPIKES", 30, 457, 38)
squeezed_text(1256, 2553, "FAULTY SPIKES", 30, 325, 38)

squeezed_text(848, 662, "a) WHOLE BODY ANG. VELOCITIES", 40, 870, 48, rotation=90)
squeezed_text(862, 1870, "b) LOWER LIMBS  ANG. VELOCITIES", 40, 913, 48, rotation=90)
squeezed_text(858, 2992, "c) UPPER LIMBS  ANG. VELOCITIES", 40, 911, 48, rotation=90, anchor_y=2930)

fig.savefig("out.png", dpi=100)
